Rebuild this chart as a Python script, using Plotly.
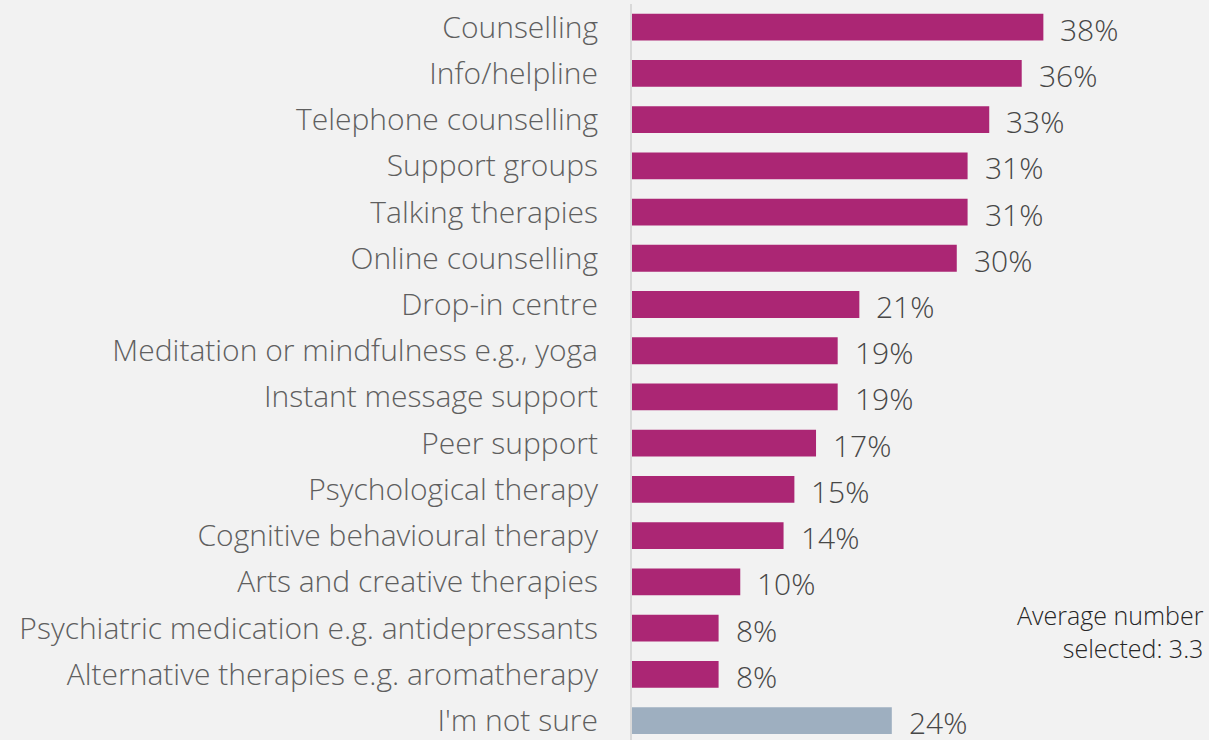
import plotly.graph_objects as go

CATEGORIES = [
    "Counselling",
    "Info/helpline",
    "Telephone counselling",
    "Support groups",
    "Talking therapies",
    "Online counselling",
    "Drop-in centre",
    "Meditation or mindfulness e.g., yoga",
    "Instant message support",
    "Peer support",
    "Psychological therapy",
    "Cognitive behavioural therapy",
    "Arts and creative therapies",
    "Psychiatric medication e.g. antidepressants",
    "Alternative therapies e.g. aromatherapy",
    "I'm not sure",
]
VALUES = [38, 36, 33, 31, 31, 30, 21, 19, 19, 17, 15, 14, 10, 8, 8, 24]
NOTE = "Average number<br>selected: 3.3"

MAGENTA = "#AB2674"
GREY_BLUE = "#9EAFC0"
BG = "#F2F2F2"
LABEL_GREY = "#5F5F5F"
VALUE_GREY = "#474747"
FONT = "Segoe UI Light, Open Sans, Lato, sans-serif"

bar_colors = [GREY_BLUE if c == "I'm not sure" else MAGENTA for c in CATEGORIES]

fig = go.Figure()
fig.add_trace(
    go.Bar(
        x=VALUES,
        y=CATEGORIES,
        orientation="h",
        marker=dict(color=bar_colors, line=dict(width=0)),
        hoverinfo="skip",
    )
)

# percentage labels just past the end of each bar
for cat, val in zip(CATEGORIES, VALUES):
    fig.add_annotation(
        x=val,
        y=cat,
        text=f"{val}%",
        showarrow=False,
        xanchor="left",
        xshift=15,
        yshift=-2,
        font=dict(size=30, color=VALUE_GREY, family=FONT, weight=300),
    )

fig.add_annotation(
    x=0.995,
    y=0.147,
    xref="paper",
    yref="paper",
    text=NOTE,
    showarrow=False,
    xanchor="right",
    yanchor="middle",
    align="right",
    font=dict(size=25, color="#262626", family=FONT, weight=300),
)

fig.update_layout(
    width=1209,
    height=740,
    paper_bgcolor=BG,
    plot_bgcolor=BG,
    showlegend=False,
    bargap=0.42,
    margin=dict(l=632, r=0, t=4, b=0),
    font=dict(family=FONT, color=LABEL_GREY),
)
fig.update_xaxes(range=[0, 53.3], visible=False, fixedrange=True)
fig.update_yaxes(
    categoryorder="array",
    categoryarray=CATEGORIES,
    range=[15.42, -0.5],
    automargin=False,
    showline=True,
    linecolor="#D9D9D9",
    linewidth=2,
    showgrid=False,
    ticks="",
    ticklabelstandoff=26,
    tickfont=dict(size=30, color=LABEL_GREY, family=FONT, weight=300),
    fixedrange=True,
)

fig.write_html(
    "out.html",
    config={"displayModeBar": False},
    post_script="document.body.style.margin='0';document.body.style.overflow='hidden';",
)
